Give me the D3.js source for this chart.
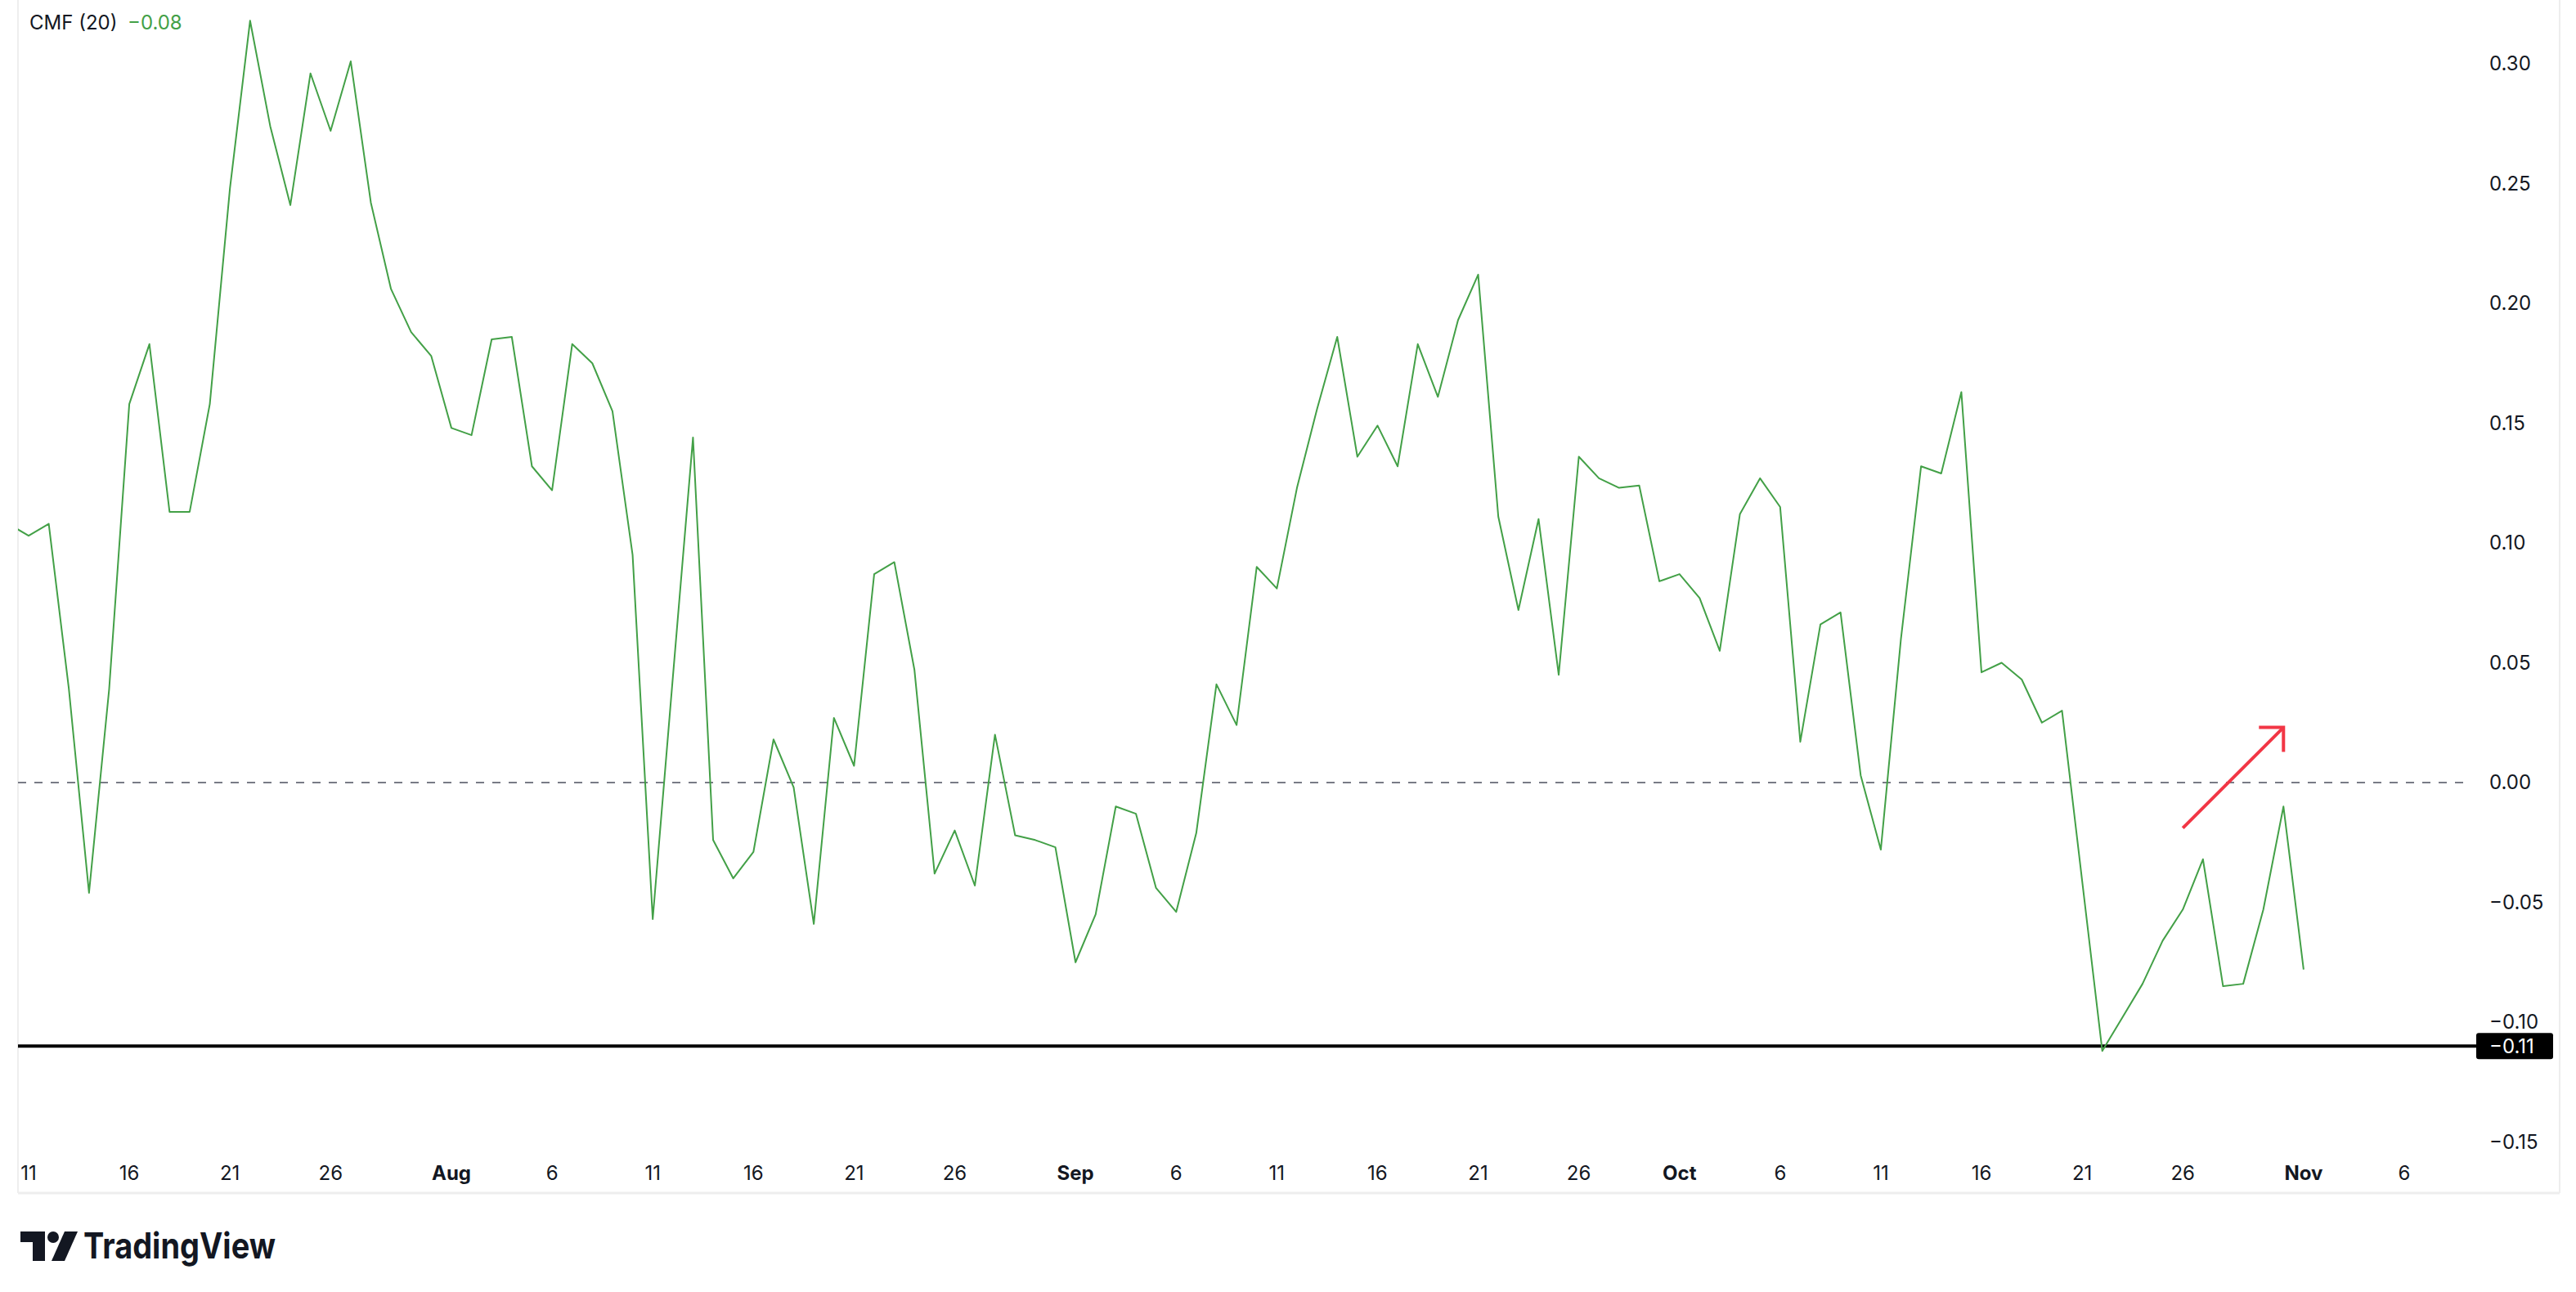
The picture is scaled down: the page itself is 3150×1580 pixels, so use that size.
<!DOCTYPE html>
<html>
<head>
<meta charset="utf-8">
<script src="https://cdn.jsdelivr.net/npm/d3@7"></script>
<style>
  body { margin: 0; background: #fff; }
  text { font-family: Inter, Roboto, "Noto Sans", sans-serif; fill: #131722; }
</style>
</head>
<body>
<svg id="chart" width="3150" height="1580"></svg>
<script>
// CMF (20), daily values, starting 10 Jul
const startDate = "2024-07-10";
const cmfValues = [
  0.108, 0.103, 0.108, 0.039, -0.046, 0.039, 0.158, 0.183, 0.113, 0.113,
  0.158, 0.248, 0.318, 0.274, 0.241, 0.296, 0.272, 0.301, 0.242, 0.206,
  0.188, 0.178, 0.148, 0.145, 0.185, 0.186, 0.132, 0.122, 0.183, 0.175,
  0.155, 0.095, -0.057, 0.044, 0.144, -0.024, -0.040, -0.029, 0.018, -0.002,
  -0.059, 0.027, 0.007, 0.087, 0.092, 0.047, -0.038, -0.020, -0.043, 0.020,
  -0.022, -0.024, -0.027, -0.075, -0.055, -0.010, -0.013, -0.044, -0.054, -0.021,
  0.041, 0.024, 0.090, 0.081, 0.123, 0.156, 0.186, 0.136, 0.149, 0.132,
  0.183, 0.161, 0.193, 0.212, 0.111, 0.072, 0.110, 0.045, 0.136, 0.127,
  0.123, 0.124, 0.084, 0.087, 0.077, 0.055, 0.112, 0.127, 0.115, 0.017,
  0.066, 0.071, 0.003, -0.028, 0.060, 0.132, 0.129, 0.163, 0.046, 0.050,
  0.043, 0.025, 0.030, -0.041, -0.112, -0.098, -0.084, -0.066, -0.053, -0.032,
  -0.085, -0.084, -0.053, -0.010, -0.078
];
const yTicks = [0.30, 0.25, 0.20, 0.15, 0.10, 0.05, 0.00, -0.05, -0.10, -0.15];
const supportLevel = -0.11;
const lastValue = -0.08;
const arrowFrom = { date: "2024-10-26", value: -0.019 };
const arrowTo = { date: "2024-10-31", value: 0.023 };

const parse = d3.utcParse("%Y-%m-%d");
const t0 = parse(startDate);
const data = cmfValues.map((v, i) => ({ date: d3.utcDay.offset(t0, i), value: v }));

const svg = d3.select("#chart");
const left = 22, right = 3130, bottom = 1459;

const x = d3.scaleUtc()
  .domain([parse("2024-07-11"), parse("2024-11-06")])
  .range([35, 2940]);
const y = d3.scaleLinear()
  .domain([0, 0.30])
  .range([957, 78]);

// frame
svg.append("line").attr("x1", left).attr("x2", left).attr("y1", 0).attr("y2", bottom)
  .attr("stroke", "#eeeeee").attr("stroke-width", 2);
svg.append("line").attr("x1", right).attr("x2", right).attr("y1", 0).attr("y2", bottom)
  .attr("stroke", "#eeeeee").attr("stroke-width", 2);
svg.append("line").attr("x1", left).attr("x2", right).attr("y1", bottom).attr("y2", bottom)
  .attr("stroke", "#eeeeee").attr("stroke-width", 3);

svg.append("clipPath").attr("id", "plot")
  .append("rect").attr("x", left).attr("y", 0).attr("width", 3020 - left).attr("height", bottom);

// zero line
svg.append("line").attr("x1", left).attr("x2", 3020)
  .attr("y1", y(0)).attr("y2", y(0))
  .attr("stroke", "#787b86").attr("stroke-width", 2).attr("stroke-dasharray", "10,10");

// support level
svg.append("line").attr("x1", left).attr("x2", 3030)
  .attr("y1", y(supportLevel)).attr("y2", y(supportLevel))
  .attr("stroke", "#000").attr("stroke-width", 4);

// CMF line
svg.append("path").datum(data)
  .attr("clip-path", "url(#plot)")
  .attr("fill", "none").attr("stroke", "#43a047").attr("stroke-width", 2)
  .attr("stroke-linejoin", "round")
  .attr("d", d3.line().x(d => x(d.date)).y(d => y(d.value)));

// red arrow
const ax1 = x(parse(arrowFrom.date)), ay1 = y(arrowFrom.value);
const ax2 = x(parse(arrowTo.date)), ay2 = y(arrowTo.value);
const arrow = svg.append("g").attr("stroke", "#f23645").attr("stroke-width", 4).attr("fill", "none");
arrow.append("line").attr("x1", ax1).attr("y1", ay1).attr("x2", ax2).attr("y2", ay2);
arrow.append("path").attr("d", `M${ax2 - 30},${ay2} L${ax2},${ay2} L${ax2},${ay2 + 30}`);

// y axis labels
const fmt = v => (v < 0 ? "\u2212" : "") + Math.abs(v).toFixed(2);
svg.append("g").selectAll("text").data(yTicks).enter().append("text")
  .attr("x", 3044).attr("y", d => y(d)).attr("dy", "0.35em")
  .attr("font-size", 24).text(fmt);

// current-level label
svg.append("rect").attr("x", 3028).attr("y", y(supportLevel) - 16)
  .attr("width", 94).attr("height", 32).attr("rx", 3).attr("fill", "#000");
svg.append("text").attr("x", 3044).attr("y", y(supportLevel)).attr("dy", "0.35em")
  .attr("font-size", 24).style("fill", "#fff").text(fmt(supportLevel));

// x axis labels
const xTicks = d3.utcDay.range(parse("2024-07-11"), parse("2024-11-07"))
  .filter(d => [1, 6, 11, 16, 21, 26].includes(d.getUTCDate()));
svg.append("g").selectAll("text").data(xTicks).enter().append("text")
  .attr("x", d => x(d)).attr("y", 1435).attr("dy", "0.35em")
  .attr("text-anchor", "middle").attr("font-size", 24)
  .attr("font-weight", d => d.getUTCDate() === 1 ? 700 : 400)
  .text(d => d.getUTCDate() === 1 ? d3.utcFormat("%b")(d) : d.getUTCDate());

// legend
svg.append("text").attr("x", 36).attr("y", 28).attr("dy", "0.35em")
  .attr("font-size", 24).text("CMF (20)");
svg.append("text").attr("x", 156).attr("y", 28).attr("dy", "0.35em")
  .attr("font-size", 24).style("fill", "#43a047").text(fmt(lastValue));

// logo
const logo = svg.append("g").attr("transform", "translate(25,1506)");
logo.append("path").attr("d", "M0,0 H30 V36 H15 V13 H0 Z").attr("fill", "#131722");
logo.append("circle").attr("cx", 40).attr("cy", 7).attr("r", 7).attr("fill", "#131722");
logo.append("path").attr("d", "M54,0 H70 L54,36 H38 Z").attr("fill", "#131722");
svg.append("text").attr("x", 102).attr("y", 1524).attr("dy", "0.35em")
  .attr("font-size", 44).attr("font-weight", 700)
  .attr("textLength", 235).attr("lengthAdjust", "spacingAndGlyphs")
  .text("TradingView");
</script>
</body>
</html>
